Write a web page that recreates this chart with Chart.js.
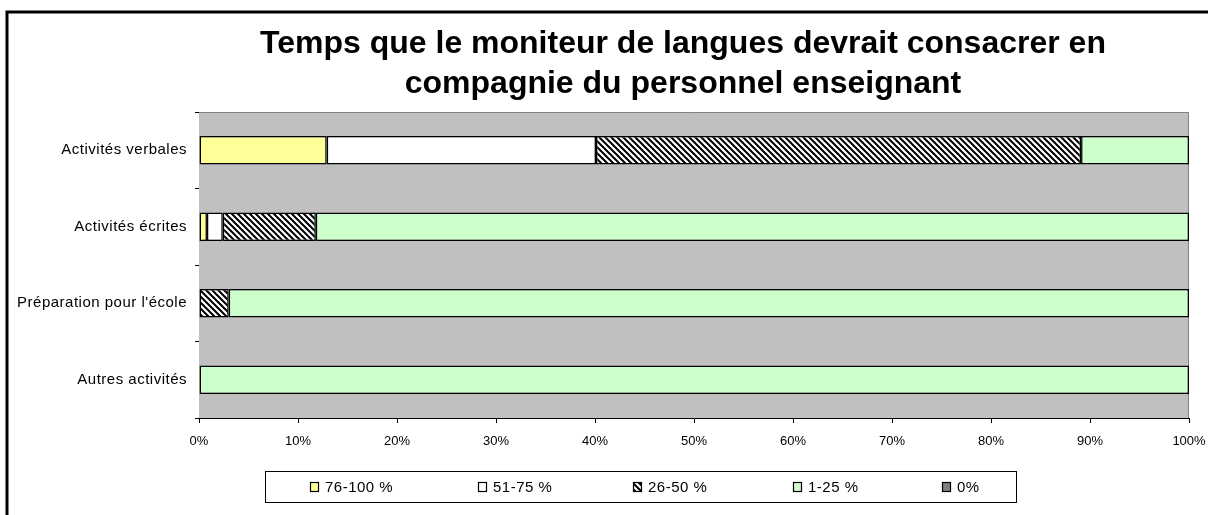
<!DOCTYPE html>
<html>
<head>
<meta charset="utf-8">
<script src="https://cdn.jsdelivr.net/npm/chart.js@4.4.1/dist/chart.umd.min.js"></script>
<style>
  html, body { margin: 0; padding: 0; background: #ffffff; }
  #wrap { width: 1208px; height: 515px; position: relative; }
</style>
</head>
<body>
<div id="wrap"><canvas id="c" width="1208" height="515"></canvas></div>
<script>
// ---- Data ----
const categories = ['Activités verbales', 'Activités écrites', "Préparation pour l'école", 'Autres activités'];
const seriesLabels = ['76-100 %', '51-75 %', '26-50 %', '1-25 %', '0%'];
const s76to100 = [12.9, 0.8, 0, 0];
const s51to75 = [27.2, 1.6, 0, 0];
const s26to50 = [49.0, 9.4, 3.0, 0];
const s1to25 = [10.9, 88.2, 97.0, 100];
const s0 = [0, 0, 0, 0];
const xTicks = [0, 10, 20, 30, 40, 50, 60, 70, 80, 90, 100];
const titleLines = ['Temps que le moniteur de langues devrait consacrer en', 'compagnie du personnel enseignant'];

// ---- Hatch pattern ----
function makeHatch() {
  const n = 6;
  const pc = document.createElement('canvas');
  pc.width = n; pc.height = n;
  const g = pc.getContext('2d');
  g.fillStyle = '#ffffff';
  g.fillRect(0, 0, n, n);
  g.strokeStyle = '#000000';
  g.lineWidth = 2;
  g.beginPath();
  g.moveTo(-1, -1); g.lineTo(n + 1, n + 1);
  g.moveTo(-1, n - 1); g.lineTo(1, n + 1);
  g.moveTo(n - 1, -1); g.lineTo(n + 1, 1);
  g.stroke();
  return g.createPattern(pc, 'repeat');
}
const hatch = makeHatch();

const FONT = "'Liberation Sans', Arial, sans-serif";

const seriesValues = [s76to100, s51to75, s26to50, s1to25, s0];
const seriesFills = ['#FFFF99', '#FFFFFF', hatch, '#CCFFCC', '#808080'];

const datasets = seriesValues.map((vals, i) => ({
  label: seriesLabels[i],
  data: vals,
  backgroundColor: seriesFills[i],
  borderColor: '#000000',
  borderWidth: 1.5,
  borderSkipped: false,
  barPercentage: 0.37,
  categoryPercentage: 1.0
}));

// ---- Plugins ----
const frameAndBg = {
  id: 'frameAndBg',
  afterLayout(chart) {
    // centre the title block like the original (over x 177..1189)
    if (chart.titleBlock) {
      chart.titleBlock.left = 177;
      chart.titleBlock.right = chart.chartArea.right;
    }
    // spaced category labels, as in the original
    const ys = chart.scales.y;
    if (ys && !ys._spacedDraw) {
      const orig = ys.drawLabels;
      ys.drawLabels = function (area) {
        const ctx = this.ctx;
        const prev = ctx.letterSpacing;
        ctx.letterSpacing = '0.5px';
        orig.call(this, area);
        ctx.letterSpacing = prev || '0px';
      };
      ys._spacedDraw = true;
    }
  },
  beforeDraw(chart) {
    const ctx = chart.ctx;
    ctx.save();
    ctx.fillStyle = '#ffffff';
    ctx.fillRect(0, 0, chart.width, chart.height);
    ctx.strokeStyle = '#000000';
    ctx.lineWidth = 3;
    ctx.beginPath();
    ctx.moveTo(7, chart.height + 10);
    ctx.lineTo(7, 12);
    ctx.lineTo(chart.width + 10, 12);
    ctx.stroke();
    ctx.restore();
  },
  beforeDatasetsDraw(chart) {
    const a = chart.chartArea;
    const ctx = chart.ctx;
    ctx.save();
    ctx.fillStyle = '#C0C0C0';
    ctx.fillRect(a.left, a.top, a.right - a.left, a.bottom - a.top);
    ctx.strokeStyle = '#808080';
    ctx.lineWidth = 1;
    ctx.beginPath();
    ctx.moveTo(a.left, a.top + 0.5);
    ctx.lineTo(a.right - 0.5, a.top + 0.5);
    ctx.lineTo(a.right - 0.5, a.bottom);
    ctx.stroke();
    ctx.restore();
  }
};

const excelLegend = {
  id: 'excelLegend',
  afterDraw(chart) {
    const ctx = chart.ctx;
    ctx.save();
    const bx = 265, by = 471, bw = 751, bh = 31;
    ctx.fillStyle = '#ffffff';
    ctx.fillRect(bx, by, bw, bh);
    ctx.strokeStyle = '#000000';
    ctx.lineWidth = 1;
    ctx.strokeRect(bx + 0.5, by + 0.5, bw, bh);
    const markerX = [310, 478, 633, 793, 942];
    const cy = by + bh / 2;
    ctx.font = '15px ' + FONT;
    ctx.letterSpacing = '0.5px';
    ctx.textBaseline = 'middle';
    ctx.textAlign = 'left';
    chart.data.datasets.forEach((ds, i) => {
      const mx = markerX[i];
      ctx.fillStyle = ds.backgroundColor;
      ctx.fillRect(mx, cy - 4.5, 8, 9);
      ctx.strokeStyle = '#000000';
      ctx.lineWidth = 1.2;
      ctx.strokeRect(mx + 0.5, cy - 4.5 + 0.5, 8, 9);
      ctx.fillStyle = '#000000';
      ctx.fillText(ds.label, mx + 15, cy + 1);
    });
    ctx.letterSpacing = '0px';
    ctx.restore();
  }
};

new Chart(document.getElementById('c'), {
  type: 'bar',
  data: { labels: categories, datasets: datasets },
  plugins: [frameAndBg, excelLegend],
  options: {
    responsive: false,
    devicePixelRatio: 1,
    animation: false,
    indexAxis: 'y',
    layout: { padding: { left: 0, right: 19, top: 0, bottom: 0 } },
    plugins: {
      legend: { display: false },
      tooltip: { enabled: false },
      title: {
        display: true,
        text: titleLines,
        color: '#000000',
        font: { family: FONT, size: 32, weight: 'bold', lineHeight: '40px' },
        padding: { top: 24, bottom: 8 }
      }
    },
    scales: {
      x: {
        stacked: true,
        min: 0,
        max: 100,
        afterFit(scale) { scale.height = 97; scale.paddingLeft = 0; scale.paddingRight = 0; },
        afterBuildTicks(scale) { scale.ticks = xTicks.map(v => ({ value: v })); },
        ticks: {
          color: '#000000',
          font: { family: FONT, size: 13 },
          padding: 11,
          maxRotation: 0,
          callback: (v) => v + '%'
        },
        grid: { drawOnChartArea: false, drawTicks: true, tickLength: 5, color: '#000000' },
        border: { display: true, color: '#000000', width: 1 }
      },
      y: {
        stacked: true,
        afterFit(scale) { scale.width = 199; },
        ticks: {
          color: '#000000',
          font: { family: FONT, size: 15 },
          padding: 8
        },
        grid: { drawOnChartArea: false, drawTicks: true, tickLength: 4, color: '#000000', offset: true },
        border: { display: true, color: '#000000', width: 1 }
      }
    }
  }
});
</script>
</body>
</html>
